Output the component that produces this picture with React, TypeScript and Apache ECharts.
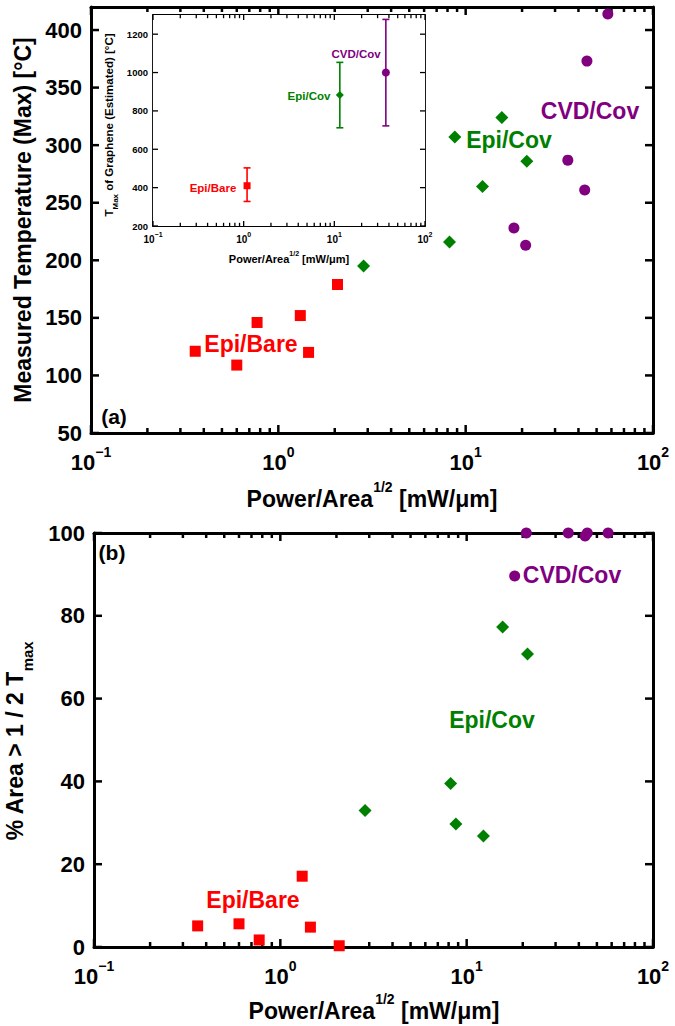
import React, { useEffect, useRef } from 'react';
import * as echarts from 'echarts';

// ---------- data ----------
const bareX = [0.36, 0.6, 0.77, 1.31, 1.45, 2.07];
const bareTemp = [121, 109, 146, 152, 120, 179];
const barePct = [5.1, 5.6, 1.7, 17.1, 4.8, 0.3];

const epiCovX = [2.85, 8.2, 8.75, 12.3, 15.6, 21.2];
const epiCovTemp = [195, 216, 307, 264, 324, 286];
const epiCovPct = [33, 39.5, 29.7, 26.8, 77.3, 70.8];

const cvdX = [18.1, 20.9, 35.1, 43.2, 44.4, 57.4];
const cvdTemp = [228, 213, 287, 261, 373, 414];
const cvdPct = [89.6, 100, 100, 99.3, 100, 100];

const insetLabels = ['Epi/Bare', 'Epi/Cov', 'CVD/Cov'];
const insetX = [1.09, 11.5, 37];
const insetY = [410, 883, 1000];
const insetLow = [328, 712, 722];
const insetHigh = [503, 1053, 1277];

// ---------- tick positions ----------
const xMajorTicks = [0.1, 1, 10, 100];
const xMinorTicks = [0.2, 0.3, 0.4, 0.5, 0.6, 0.7, 0.8, 0.9, 2, 3, 4, 5, 6, 7, 8, 9, 20, 30, 40, 50, 60, 70, 80, 90];
const yTicksA = [50, 100, 150, 200, 250, 300, 350, 400];
const yTicksInset = [200, 400, 600, 800, 1000, 1200];
const yTicksB = [0, 20, 40, 60, 80, 100];

const RED = '#ff0000';
const GREEN = '#008000';
const PURPLE = '#800080';
const FF = '"Liberation Sans", Arial, Helvetica, sans-serif';

function logFormatter(v: number) {
  const e = Math.round(Math.log10(v));
  const s = e < 0 ? '\u2212' + -e : String(e);
  return `{b|10}{s|${s}}`;
}

function logRich(base: number, sup: number, lh: number) {
  return {
    b: { fontSize: base, fontWeight: 'bold', fontFamily: FF, color: '#000', verticalAlign: 'bottom', lineHeight: lh },
    s: { fontSize: sup, fontWeight: 'bold', fontFamily: FF, color: '#000', verticalAlign: 'top' },
  };
}

function makeXAxes(grid: number, lw: number, base: number, sup: number, lh: number, margin: number) {
  const common = {
    type: 'log', logBase: 10, gridIndex: grid, min: 0.1, max: 100,
    axisLine: { show: true, onZero: false, lineStyle: { color: '#000', width: lw } },
    axisTick: { show: false },
    splitLine: { show: false },
  };
  return [
    { ...common, position: 'bottom', axisLabel: { show: true, margin, formatter: logFormatter, rich: logRich(base, sup, lh) } },
    { ...common, position: 'top', axisLabel: { show: false } },
  ];
}

function makeYAxes(grid: number, min: number, max: number, interval: number, lw: number, fs: number, margin: number) {
  const common = {
    type: 'value', gridIndex: grid, min, max, interval,
    axisLine: { show: true, onZero: false, lineStyle: { color: '#000', width: lw } },
    axisTick: { show: false },
    splitLine: { show: false },
  };
  return [
    {
      ...common, position: 'left',
      axisLabel: {
        show: true, margin, showMaxLabel: max % interval === 0, color: '#000', fontSize: fs, fontWeight: 'bold', fontFamily: FF,
        formatter: (v: number) => String(v),
      },
    },
    { ...common, position: 'right', axisLabel: { show: false } },
  ];
}

function scatter(xs: number[], ys: number[], symbol: string, size: number, color: string, xi: number, yi: number) {
  return {
    type: 'scatter', xAxisIndex: xi, yAxisIndex: yi, symbol, symbolSize: size, clip: false, z: 5,
    itemStyle: { color, opacity: 1 },
    data: xs.map((x, i) => [x, ys[i]]),
  };
}

// inward tick marks on bottom and top edges, positioned through the axis scale
function xTickSeries(values: number[], xi: number, yi: number, yMin: number, yMax: number, len: number, lw: number) {
  return {
    type: 'custom', xAxisIndex: xi, yAxisIndex: yi, silent: true, z: 3, clip: false,
    encode: { x: 0, y: [1, 2] },
    data: values.map((v) => [v, yMin, yMax]),
    renderItem: (params: any, api: any) => {
      const b = api.coord([api.value(0), api.value(1)]);
      const t = api.coord([api.value(0), api.value(2)]);
      const st = { stroke: '#000', lineWidth: lw };
      return {
        type: 'group',
        children: [
          { type: 'line', shape: { x1: b[0], y1: b[1], x2: b[0], y2: b[1] - len }, style: st },
          { type: 'line', shape: { x1: t[0], y1: t[1], x2: t[0], y2: t[1] + len }, style: st },
        ],
      };
    },
  };
}

// inward tick marks on left and right edges
function yTickSeries(values: number[], xi: number, yi: number, len: number, lw: number) {
  return {
    type: 'custom', xAxisIndex: xi, yAxisIndex: yi, silent: true, z: 3, clip: false,
    encode: { x: [0, 1], y: 2 },
    data: values.map((v) => [0.1, 100, v]),
    renderItem: (params: any, api: any) => {
      const l = api.coord([api.value(0), api.value(2)]);
      const r = api.coord([api.value(1), api.value(2)]);
      const st = { stroke: '#000', lineWidth: lw };
      return {
        type: 'group',
        children: [
          { type: 'line', shape: { x1: l[0], y1: l[1], x2: l[0] + len, y2: l[1] }, style: st },
          { type: 'line', shape: { x1: r[0], y1: r[1], x2: r[0] - len, y2: r[1] }, style: st },
        ],
      };
    },
  };
}

function errorBarSeries(i: number, color: string) {
  return {
    type: 'custom', xAxisIndex: 2, yAxisIndex: 2, silent: true, z: 4, clip: false,
    encode: { x: 0, y: [1, 2] },
    data: [[insetX[i], insetLow[i], insetHigh[i]]],
    renderItem: (params: any, api: any) => {
      const lo = api.coord([api.value(0), api.value(1)]);
      const hi = api.coord([api.value(0), api.value(2)]);
      const w = 3.5;
      const st = { stroke: color, lineWidth: 1.6 };
      return {
        type: 'group',
        children: [
          { type: 'line', shape: { x1: lo[0], y1: lo[1], x2: hi[0], y2: hi[1] }, style: st },
          { type: 'line', shape: { x1: lo[0] - w, y1: lo[1], x2: lo[0] + w, y2: lo[1] }, style: st },
          { type: 'line', shape: { x1: hi[0] - w, y1: hi[1], x2: hi[0] + w, y2: hi[1] }, style: st },
        ],
      };
    },
  };
}

function txt(text: string, x: number, y: number, fs: number, color: string, extra: any = {}) {
  return {
    type: 'text', x, y, z: 10, ...extra,
    style: { text, fill: color, fontSize: fs, fontWeight: 'bold', fontFamily: FF, align: 'center', verticalAlign: 'middle', ...(extra.style || {}) },
  };
}

export default function App() {
  const ref = useRef<HTMLDivElement>(null);
  useEffect(() => {
    if (!ref.current) return;
    const chart = echarts.init(ref.current, undefined, { renderer: 'svg' });
    const xTitleRich = (base: number, sup: number, lh: number) => ({
      b: { fontSize: base, fontWeight: 'bold', fontFamily: FF, fill: '#000', verticalAlign: 'bottom', lineHeight: lh },
      s: { fontSize: sup, fontWeight: 'bold', fontFamily: FF, fill: '#000', verticalAlign: 'top' },
    });
    const option: any = {
      animation: false,
      backgroundColor: '#fff',
      grid: [
        { left: 91, right: 22, top: 7, bottom: 593, containLabel: false },
        { left: 153, right: 250, top: 15, bottom: 800, show: true, backgroundColor: '#fff', borderWidth: 0, z: 1 },
        { left: 94, right: 22, top: 533, bottom: 79, containLabel: false },
      ],
      xAxis: [
        ...makeXAxes(0, 3, 22, 14, 28, 12),
        ...makeXAxes(1, 1.8, 10, 7, 13, 5),
        ...makeXAxes(2, 3, 22, 14, 28, 12),
      ],
      yAxis: [
        ...makeYAxes(0, 50, 420, 50, 3, 22, 9),
        ...makeYAxes(1, 200, 1300, 200, 1.8, 9.5, 5),
        ...makeYAxes(2, 0, 100, 20, 3, 22, 9),
      ],
      series: [
        xTickSeries(xMajorTicks, 0, 0, 50, 420, 8, 2.5),
        xTickSeries(xMinorTicks, 0, 0, 50, 420, 5, 2.5),
        yTickSeries(yTicksA, 0, 0, 8, 2.5),
        xTickSeries(xMajorTicks, 2, 2, 200, 1300, 5, 1.3),
        xTickSeries(xMinorTicks, 2, 2, 200, 1300, 3.2, 1.3),
        yTickSeries(yTicksInset, 2, 2, 5, 1.3),
        xTickSeries(xMajorTicks, 4, 4, 0, 100, 8, 2.5),
        xTickSeries(xMinorTicks, 4, 4, 0, 100, 5, 2.5),
        yTickSeries(yTicksB, 4, 4, 8, 2.5),
        scatter(bareX, bareTemp, 'rect', 11, RED, 0, 0),
        scatter(epiCovX, epiCovTemp, 'diamond', 13, GREEN, 0, 0),
        scatter(cvdX, cvdTemp, 'circle', 11, PURPLE, 0, 0),
        scatter(bareX, barePct, 'rect', 11, RED, 4, 4),
        scatter(epiCovX, epiCovPct, 'diamond', 13, GREEN, 4, 4),
        scatter(cvdX, cvdPct, 'circle', 11, PURPLE, 4, 4),
        errorBarSeries(0, RED),
        errorBarSeries(1, GREEN),
        errorBarSeries(2, PURPLE),
        scatter([insetX[0]], [insetY[0]], 'rect', 7, RED, 2, 2),
        scatter([insetX[1]], [insetY[1]], 'diamond', 8, GREEN, 2, 2),
        scatter([insetX[2]], [insetY[2]], 'circle', 8, PURPLE, 2, 2),
      ],
      graphic: [
        txt('Epi/Bare', 251, 344, 23, RED),
        txt('Epi/Cov', 509, 140, 23, GREEN),
        txt('CVD/Cov', 590, 111, 23, PURPLE),
        txt('(a)', 114, 416, 21, '#000'),
        txt('Epi/Bare', 253, 900, 23, RED),
        txt('Epi/Cov', 492, 720, 23, GREEN),
        txt('CVD/Cov', 572, 575, 23, PURPLE),
        txt('(b)', 112, 552, 21, '#000'),
        txt(insetLabels[0], 213, 188, 11.5, RED),
        txt(insetLabels[1], 309, 96, 11.5, GREEN),
        txt(insetLabels[2], 356, 54, 11.5, PURPLE),
        {
          type: 'text', x: 372, y: 495, z: 10,
          style: { text: '{b|Power/Area}{s|1/2}{b| [mW/\u03bcm]}', rich: xTitleRich(23, 14, 30), align: 'center', verticalAlign: 'middle' },
        },
        {
          type: 'text', x: 374, y: 1007, z: 10,
          style: { text: '{b|Power/Area}{s|1/2}{b| [mW/\u03bcm]}', rich: xTitleRich(23, 14, 30), align: 'center', verticalAlign: 'middle' },
        },
        {
          type: 'text', x: 289, y: 257, z: 10,
          style: { text: '{b|Power/Area}{s|1/2}{b| [mW/\u03bcm]}', rich: xTitleRich(11, 7, 14), align: 'center', verticalAlign: 'middle' },
        },
        txt('Measured Temperature (Max) [\u00b0C]', 23, 220, 23, '#000', { rotation: Math.PI / 2 }),
        {
          type: 'text', x: 19, y: 741, z: 10, rotation: Math.PI / 2,
          style: {
            text: '{b|% Area > 1 / 2 T}{m|max}', align: 'center', verticalAlign: 'middle',
            rich: {
              b: { fontSize: 23, fontWeight: 'bold', fontFamily: FF, fill: '#000', verticalAlign: 'top', lineHeight: 32 },
              m: { fontSize: 15, fontWeight: 'bold', fontFamily: FF, fill: '#000', verticalAlign: 'bottom' },
            },
          },
        },
        {
          type: 'text', x: 111, y: 125, z: 10, rotation: Math.PI / 2,
          style: {
            text: '{b|T}{m|Max}{b| of Graphene (Estimated) [\u00b0C]}', align: 'center', verticalAlign: 'middle',
            rich: {
              b: { fontSize: 11.5, fontWeight: 'bold', fontFamily: FF, fill: '#000', verticalAlign: 'top', lineHeight: 16 },
              m: { fontSize: 8, fontWeight: 'bold', fontFamily: FF, fill: '#000', verticalAlign: 'bottom' },
            },
          },
        },
      ],
    };
    chart.setOption(option);
    return () => chart.dispose();
  }, []);
  return <div ref={ref} style={{ position: 'absolute', left: 0, top: 0, width: 675, height: 1026 }} />;
}
